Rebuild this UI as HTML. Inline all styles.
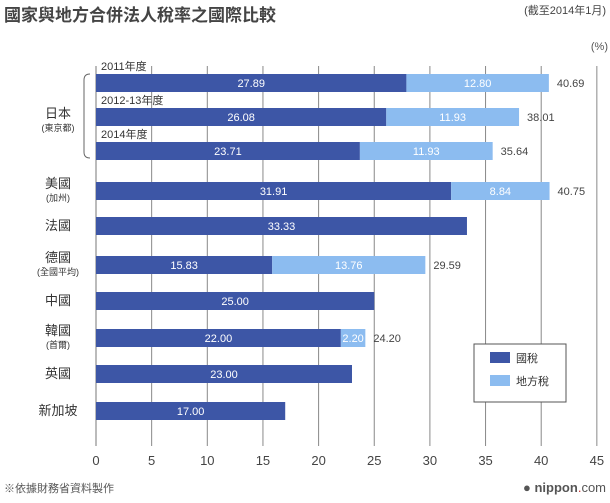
<!DOCTYPE html>
<html><head><meta charset="utf-8">
<style>
body{margin:0;background:#fff;}
svg text{font-family:"Liberation Sans","Noto Sans CJK TC",sans-serif;}
</style></head>
<body>
<svg id="chart" width="610" height="498" xmlns="http://www.w3.org/2000/svg">
<text x="4" y="21" font-size="17" font-weight="bold" fill="#444">國家與地方合併法人稅率之國際比較</text>
<text x="606" y="14" font-size="11" text-anchor="end" fill="#444">(截至2014年1月)</text>
<text x="608" y="50" font-size="11" text-anchor="end" fill="#555">(%)</text>
<g id="grid"></g>
<g id="bars"></g>
<g id="labels"></g>
<path d="M90,74 Q84,74 84,80 L84,152 Q84,158 90,158" fill="none" stroke="#666" stroke-width="1"/>
<text x="58" y="118" font-size="13" text-anchor="middle" fill="#333">日本</text>
<text x="58" y="131" font-size="9" text-anchor="middle" fill="#333">(東京都)</text>
<g>
<rect x="474" y="344" width="92" height="58" fill="#fff" stroke="#555" stroke-width="1"/>
<rect x="490" y="352" width="20" height="11" fill="#3d56a6"/>
<text x="516" y="362" font-size="11" fill="#333">國稅</text>
<rect x="490" y="375" width="20" height="11" fill="#8cbcf0"/>
<text x="516" y="385" font-size="11" fill="#333">地方稅</text>
</g>
<text x="4" y="492" font-size="11" fill="#555">※依據財務省資料製作</text>
<text x="606" y="492" font-size="13" text-anchor="end" fill="#555"><tspan font-weight="bold">● nippon</tspan><tspan fill="#c33">.</tspan>com</text>
</svg>
<script>
const categories=["2011年度","2012-13年度","2014年度","美國","法國","德國","中國","韓國","英國","新加坡"];
const nationalTax=[27.89,26.08,23.71,31.91,33.33,15.83,25.00,22.00,23.00,17.00];
const localTax=[12.80,11.93,11.93,8.84,0,13.76,0,2.20,0,0];
const totals=[40.69,38.01,35.64,40.75,null,29.59,null,24.20,null,null];
const subLabels=["","","","(加州)","","(全國平均)","","(首爾)","",""];
const ticks=[0,5,10,15,20,25,30,35,40,45];
const NS="http://www.w3.org/2000/svg";
const x0=96,pxPer=11.13;
const X=v=>x0+v*pxPer;
const rowY=[74,108,142,182,217,256,292,329,365,402];
const Y=i=>rowY[i];
const barH=18;
function mk(tag,attrs,parent){const e=document.createElementNS(NS,tag);for(const k in attrs)e.setAttribute(k,attrs[k]);parent.appendChild(e);return e;}
const grid=document.getElementById('grid'),bars=document.getElementById('bars'),labels=document.getElementById('labels');
ticks.forEach(t=>{
  const l=mk('line',{x1:X(t),x2:X(t),y1:66,y2:446,stroke:t===0?'#777':'#888','stroke-width':1},grid);
  
  
  const tx=mk('text',{x:X(t),y:451+14,'font-size':13,'text-anchor':'middle',fill:'#444'},grid);
  tx.textContent=t;
  
  
});
categories.forEach((c,i)=>{
  const y=Y(i);
  const b=mk('rect',{x:X(0),y:y,width:X(nationalTax[i])-X(0),height:barH,fill:'#3d56a6'},bars);
  
  
  const t=mk('text',{x:(X(0)+X(nationalTax[i]))/2,y:y+13,'font-size':11,'text-anchor':'middle',fill:'#fff'},labels);
  t.textContent=nationalTax[i].toFixed(2);
  
  
  if(localTax[i]>0){
    const b2=mk('rect',{x:X(nationalTax[i]),y:y,width:X(nationalTax[i]+localTax[i])-X(nationalTax[i]),height:barH,fill:'#8cbcf0'},bars);
    
    
    const t2=mk('text',{x:(X(nationalTax[i])+X(nationalTax[i]+localTax[i]))/2,y:y+13,'font-size':11,'text-anchor':'middle',fill:'#fff'},labels);
    t2.textContent=localTax[i].toFixed(2);
    
    
  }
  if(totals[i]!=null){
    const t3=mk('text',{x:X(nationalTax[i]+localTax[i])+8,y:y+13,'font-size':11,fill:'#444'},labels);
    t3.textContent=totals[i].toFixed(2);
    
    
  }
  if(i<3){
    const yl=mk('text',{x:X(0)+5,y:y-4,'font-size':11,fill:'#333'},labels);
    yl.textContent=c;
    
    
  }else{
    const sub=subLabels[i];
    const cl=mk('text',{x:58,y:sub?y+6:y+13,'font-size':13,'text-anchor':'middle',fill:'#333'},labels);
    cl.textContent=c;
    
    
    if(sub){
      const sl=mk('text',{x:58,y:y+19,'font-size':9,'text-anchor':'middle',fill:'#333'},labels);
      sl.textContent=sub;
      
      
    }
  }
});
</script>
</body></html>
